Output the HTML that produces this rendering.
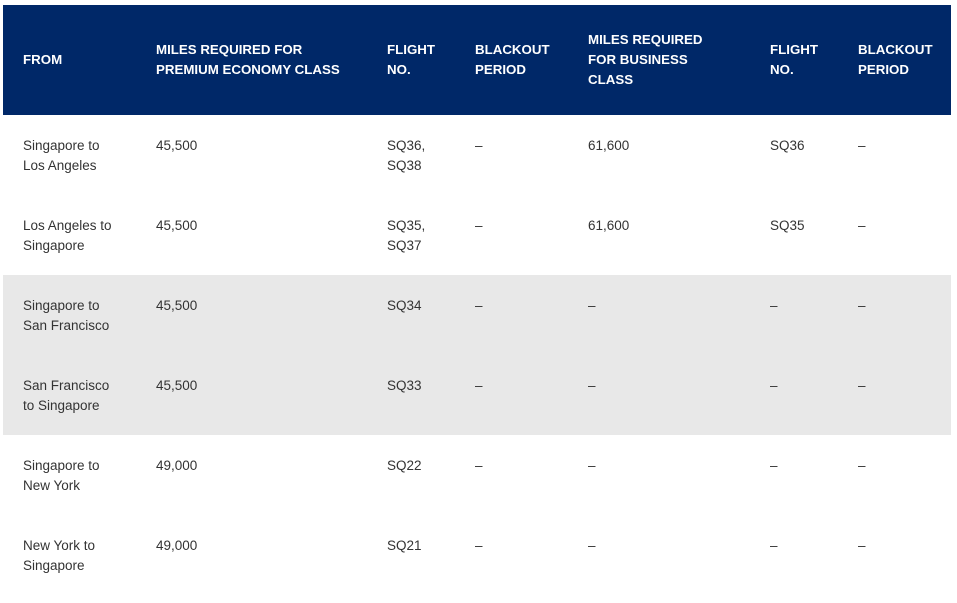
<!DOCTYPE html>
<html><head><style>
body{margin:0;width:957px;height:603px;background:#fff;font-family:"Liberation Sans",sans-serif;position:relative;overflow:hidden}
.hd{position:absolute;left:3px;top:5px;width:948px;height:110px;background:#002868}
.g{position:absolute;left:3px;width:948px;height:160px;background:#e8e8e8;top:275px}
.t{position:absolute;font-size:13.5px;line-height:20px;color:#333;white-space:nowrap;margin-top:1px}
.h{color:#fff;font-weight:bold;font-size:13.3px;margin-top:0}
</style></head><body>
<div class="hd"></div><div class="g"></div>
<div class="t h" style="left:23px;top:50px">FROM</div>
<div class="t h" style="left:156px;top:40px">MILES REQUIRED FOR<br>PREMIUM ECONOMY CLASS</div>
<div class="t h" style="left:387px;top:40px">FLIGHT<br>NO.</div>
<div class="t h" style="left:475px;top:40px">BLACKOUT<br>PERIOD</div>
<div class="t h" style="left:588px;top:30px">MILES REQUIRED<br>FOR BUSINESS<br>CLASS</div>
<div class="t h" style="left:770px;top:40px">FLIGHT<br>NO.</div>
<div class="t h" style="left:858px;top:40px">BLACKOUT<br>PERIOD</div>

<div class="t" style="left:23px;top:135px">Singapore to<br>Los Angeles</div>
<div class="t" style="left:156px;top:135px">45,500</div>
<div class="t" style="left:387px;top:135px">SQ36,<br>SQ38</div>
<div class="t" style="left:475px;top:135px">–</div>
<div class="t" style="left:588px;top:135px">61,600</div>
<div class="t" style="left:770px;top:135px">SQ36</div>
<div class="t" style="left:858px;top:135px">–</div>

<div class="t" style="left:23px;top:215px">Los Angeles to<br>Singapore</div>
<div class="t" style="left:156px;top:215px">45,500</div>
<div class="t" style="left:387px;top:215px">SQ35,<br>SQ37</div>
<div class="t" style="left:475px;top:215px">–</div>
<div class="t" style="left:588px;top:215px">61,600</div>
<div class="t" style="left:770px;top:215px">SQ35</div>
<div class="t" style="left:858px;top:215px">–</div>

<div class="t" style="left:23px;top:295px">Singapore to<br>San Francisco</div>
<div class="t" style="left:156px;top:295px">45,500</div>
<div class="t" style="left:387px;top:295px">SQ34</div>
<div class="t" style="left:475px;top:295px">–</div>
<div class="t" style="left:588px;top:295px">–</div>
<div class="t" style="left:770px;top:295px">–</div>
<div class="t" style="left:858px;top:295px">–</div>

<div class="t" style="left:23px;top:375px">San Francisco<br>to Singapore</div>
<div class="t" style="left:156px;top:375px">45,500</div>
<div class="t" style="left:387px;top:375px">SQ33</div>
<div class="t" style="left:475px;top:375px">–</div>
<div class="t" style="left:588px;top:375px">–</div>
<div class="t" style="left:770px;top:375px">–</div>
<div class="t" style="left:858px;top:375px">–</div>

<div class="t" style="left:23px;top:455px">Singapore to<br>New York</div>
<div class="t" style="left:156px;top:455px">49,000</div>
<div class="t" style="left:387px;top:455px">SQ22</div>
<div class="t" style="left:475px;top:455px">–</div>
<div class="t" style="left:588px;top:455px">–</div>
<div class="t" style="left:770px;top:455px">–</div>
<div class="t" style="left:858px;top:455px">–</div>

<div class="t" style="left:23px;top:535px">New York to<br>Singapore</div>
<div class="t" style="left:156px;top:535px">49,000</div>
<div class="t" style="left:387px;top:535px">SQ21</div>
<div class="t" style="left:475px;top:535px">–</div>
<div class="t" style="left:588px;top:535px">–</div>
<div class="t" style="left:770px;top:535px">–</div>
<div class="t" style="left:858px;top:535px">–</div>
</body></html>
